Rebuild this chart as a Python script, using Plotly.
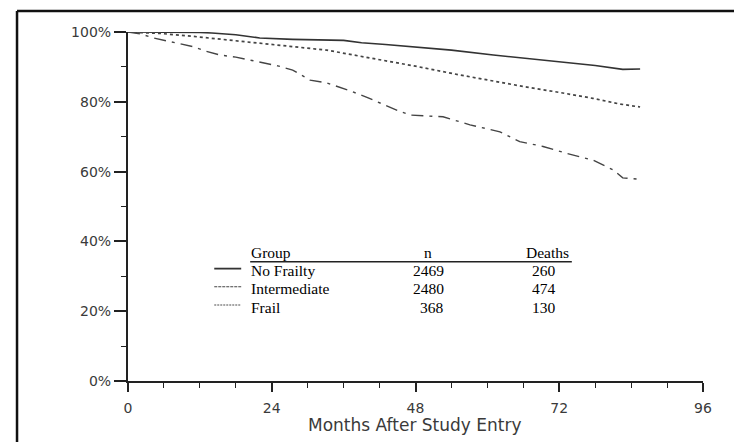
import plotly.graph_objects as go

# ---- data ----
no_frailty_months = [0, 6, 12, 14, 18, 22, 27.5, 36, 39, 43, 47, 54, 61, 66, 72, 78, 82.6, 85.5]
no_frailty_surv = [100, 100, 99.9, 99.7, 99.2, 98.3, 97.9, 97.6, 96.9, 96.4, 95.8, 94.8, 93.4, 92.5, 91.5, 90.4, 89.3, 89.4]

inter_months = [0, 2, 5.3, 10, 16, 22, 27, 33.2, 38.7, 42, 48, 55.4, 61, 66.6, 72, 77.6, 82, 85.5]
inter_surv = [100, 99.9, 99.6, 98.9, 97.9, 96.8, 95.9, 94.8, 93.1, 92.2, 90.2, 87.7, 85.9, 84.2, 82.7, 81.0, 79.4, 78.5]

frail_months = [0, 2, 4.2, 8, 10.9, 13, 15.4, 18, 22, 25, 27.5, 30.4, 33, 37, 40, 42, 45, 47.1,
                52.6, 57.1, 62.1, 65.4, 69.3, 73.3, 77.6, 81, 82.6, 85.5]
frail_surv = [100, 99.5, 98.3, 97.0, 95.8, 94.5, 93.4, 92.8, 91.3, 90.3, 89.1, 86.2, 85.5, 83.2, 81.2, 79.7, 77.5, 76.2,
              75.7, 73.4, 71.4, 68.6, 67.2, 65.2, 63.3, 60.5, 58.2, 57.8]

groups = ["No Frailty", "Intermediate", "Frail"]
group_n = ["2469", "2480", "368"]
group_deaths = ["260", "474", "130"]

x_ticks = [0, 24, 48, 72, 96]
y_ticks = [0, 20, 40, 60, 80, 100]
y_tick_labels = ["0%", "20%", "40%", "60%", "80%", "100%"]

fig = go.Figure()
fig.add_trace(go.Scatter(x=no_frailty_months, y=no_frailty_surv, mode="lines", name=groups[0],
                         line=dict(color="#333333", width=1.6), cliponaxis=False))
fig.add_trace(go.Scatter(x=inter_months, y=inter_surv, mode="lines", name=groups[1],
                         line=dict(color="#444444", width=1.7, dash="3px,3px"), cliponaxis=False))
fig.add_trace(go.Scatter(x=frail_months, y=frail_surv, mode="lines", name=groups[2],
                         line=dict(color="#444444", width=1.4, dash="12px,6px,3px,6px"), cliponaxis=False))

tick_font = dict(family="DejaVu Sans", size=14, color="#3a3a3a")
serif = dict(family="Liberation Serif", size=15.5, color="#000000")

fig.update_xaxes(range=[0, 96], tickvals=x_ticks, ticks="outside", ticklen=9, tickwidth=1.5,
                 tickcolor="#222", showline=True, linecolor="#222", linewidth=1.6,
                 showgrid=False, zeroline=False, tickfont=tick_font, ticklabelstandoff=4,
                 minor=dict(dtick=6, tick0=0, ticks="outside", ticklen=5, tickwidth=1.2, tickcolor="#222"))
fig.update_yaxes(range=[0, 100], tickvals=y_ticks, ticktext=y_tick_labels, ticks="outside", ticklen=12,
                 tickwidth=1.5, tickcolor="#222", showline=True, linecolor="#222", linewidth=2.2,
                 showgrid=False, zeroline=False, tickfont=tick_font, ticklabelstandoff=0,
                 minor=dict(dtick=10, tick0=0, ticks="outside", ticklen=5, tickwidth=1.2, tickcolor="#222"))

ann = []
# x-axis title
ann.append(dict(text="Months After Study Entry", x=0.499, xref="paper", y=-0.126, yref="paper",
                xanchor="center", yanchor="middle", showarrow=False,
                font=dict(family="DejaVu Sans", size=17, color="#3a3a3a")))
# legend table header
ann.append(dict(text="Group", x=20.4, y=36.8, xanchor="left", yanchor="middle", showarrow=False,
                font=serif, borderpad=0))
ann.append(dict(text="n", x=50.1, y=36.8, xanchor="center", yanchor="middle", showarrow=False,
                font=serif, borderpad=0))
ann.append(dict(text="Deaths", x=70.0, y=36.8, xanchor="center", yanchor="middle", showarrow=False,
                font=serif, borderpad=0))
row_y = [31.6, 26.4, 21.2]
for i in range(3):
    ann.append(dict(text=groups[i], x=20.4, y=row_y[i], xanchor="left", yanchor="middle", showarrow=False,
                    font=serif, borderpad=0))
    ann.append(dict(text=group_n[i], x=52.9, y=row_y[i], xanchor="right", yanchor="middle", showarrow=False,
                    font=serif, borderpad=0))
    ann.append(dict(text=group_deaths[i], x=71.6, y=row_y[i], xanchor="right", yanchor="middle", showarrow=False,
                    font=serif, borderpad=0))

shapes = []
# header underline
shapes.append(dict(type="line", x0=20.4, x1=74.1, y0=34.2, y1=34.2, line=dict(color="#222", width=1.5)))
# legend samples
sample_styles = [dict(color="#333", width=1.8), dict(color="#444", width=1.2, dash="3px,1px"),
                 dict(color="#888", width=1.5, dash="2px,1px")]
for i in range(3):
    shapes.append(dict(type="line", x0=14.4, x1=18.9, y0=row_y[i] + 0.6, y1=row_y[i] + 0.6, line=sample_styles[i]))
# frame (top and left edges)
shapes.append(dict(type="line", xref="paper", yref="paper", x0=-0.193, x1=1.1, y0=1.060, y1=1.060,
                   line=dict(color="#111", width=2.5)))
shapes.append(dict(type="line", xref="paper", yref="paper", x0=-0.193, x1=-0.193, y0=1.060, y1=-0.25,
                   line=dict(color="#111", width=2.5)))

# page body has an 8px margin, so margins are reduced by 8 to place the plot area as in the reference
fig.update_layout(width=742, height=442, margin=dict(l=120, r=47, t=24, b=69, autoexpand=False),
                  paper_bgcolor="white", plot_bgcolor="white", showlegend=False,
                  annotations=ann, shapes=shapes)

fig.write_html("out.html")
